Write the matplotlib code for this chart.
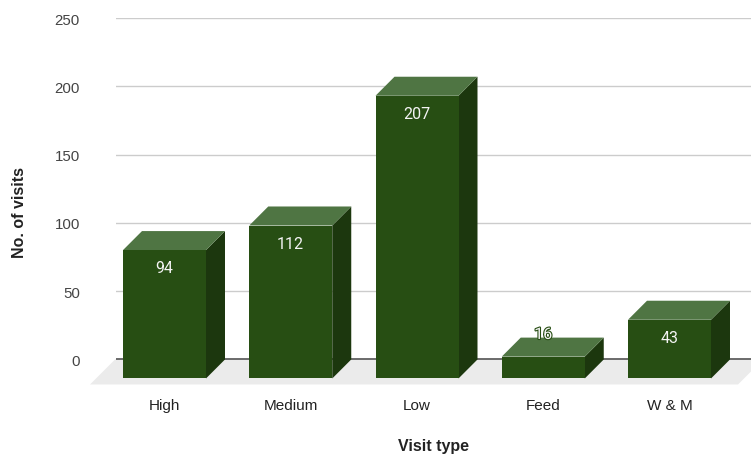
import matplotlib
matplotlib.use("Agg")
import matplotlib.pyplot as plt
from matplotlib.patches import Polygon, Rectangle
import matplotlib.patheffects as pe

# Visits per visit type
categories = ["High", "Medium", "Low", "Feed", "W & M"]
visits = [94, 112, 207, 16, 43]
y_ticks = [0, 50, 100, 150, 200, 250]

FRONT = "#274e13"
TOP = "#4f7543"
SIDE = "#1c370e"
FLOOR = "#ebebeb"

W, H = 751, 456
fig = plt.figure(figsize=(W / 100, H / 100), dpi=100)

# axes box in pixels: left 116, right 751, top 19 (=250), bottom 392
px_unit = 1.364          # pixels per visit
zero_px = 360.5
slot_px = 126.25         # distance between bar centres
first_px = 164.5
ax_l, ax_r, ax_t, ax_b = 116, 751, 19, 392
ax = fig.add_axes([ax_l / W, 1 - ax_b / H, (ax_r - ax_l) / W, (ax_b - ax_t) / H])
ax.set_xlim((ax_l - first_px) / slot_px, (ax_r - first_px) / slot_px)
ax.set_ylim(-(ax_b - zero_px) / px_unit, 250)

# 3D depth offset (19 px right and up)
dx = 19 / slot_px
dy = 19 / px_unit
hw = 83 / slot_px / 2

for s in ax.spines.values():
    s.set_visible(False)

# gridlines and floor
for t in y_ticks[1:]:
    ax.axhline(t, color="#cccccc", lw=1, zorder=1)
floor_depth = 25 / px_unit
fx0, fx1 = (115 - first_px) / slot_px, (763 - first_px) / slot_px
fdx = 25 / slot_px
ax.add_patch(Polygon([(fx0, 0), (fx1, 0), (fx1 - fdx, -floor_depth), (fx0 - fdx, -floor_depth)],
                     closed=True, facecolor=FLOOR, edgecolor="none", zorder=2, clip_on=False))
ax.axhline(0, color="#444444", lw=1.1, zorder=3)

for i, v in enumerate(visits):
    x0, x1 = i - hw, i + hw
    ax.add_patch(Polygon([(x1, -dy), (x1 + dx, 0), (x1 + dx, v), (x1, v - dy)],
                         closed=True, facecolor=SIDE, edgecolor="none", zorder=4, clip_on=False))
    ax.add_patch(Polygon([(x0, v - dy), (x1, v - dy), (x1 + dx, v), (x0 + dx, v)],
                         closed=True, facecolor=TOP, edgecolor="none", zorder=4, clip_on=False))
    ax.add_patch(Rectangle((x0, -dy), 2 * hw, v, facecolor=FRONT, edgecolor="none",
                           zorder=5, clip_on=False))
    if v - dy > 25:
        ax.text(i, v - dy - 17.5 / px_unit, str(v), ha="center", va="center", color="#f4f4f4",
                fontsize=11.5, family="Roboto", zorder=6)
    else:
        ax.text(i, v + 2.3, str(v), ha="center", va="center", color="#f4f4f4",
                fontsize=11.5, family="Roboto", zorder=6,
                path_effects=[pe.withStroke(linewidth=1.6, foreground=FRONT)])

ax.set_xticks(range(len(categories)))
ax.set_xticklabels(categories, fontsize=11, family="Liberation Sans", color="#222222")
ax.set_yticks(y_ticks)
ax.set_yticklabels([str(t) for t in y_ticks], fontsize=10.8, family="Liberation Sans", color="#444444")
ax.tick_params(axis="x", length=0, pad=5)
ax.tick_params(axis="y", length=0, pad=26)

ax.set_xlabel("Visit type", fontsize=11.5, fontweight="bold", family="Liberation Sans",
              color="#222222", labelpad=19)
ax.set_ylabel("No. of visits", fontsize=11.5, fontweight="bold", family="Liberation Sans",
              color="#222222", labelpad=19.5)
ax.yaxis.set_label_coords(-0.14, 0.48)

fig.savefig("out.png", dpi=100)
